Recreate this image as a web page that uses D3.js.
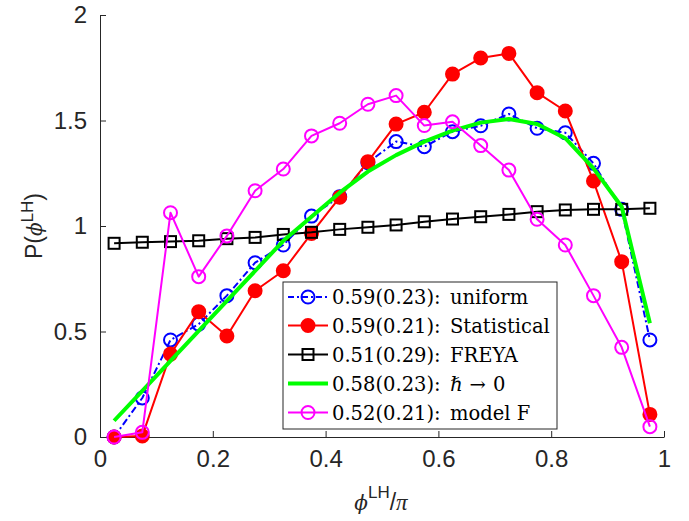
<!DOCTYPE html>
<html><head><meta charset="utf-8">
<script src="https://cdn.jsdelivr.net/npm/d3@7"></script>
<style>body{margin:0;background:#fff}svg{display:block}</style>
</head><body>
<svg id="c" width="689" height="521"></svg>
<script>
const xBins = [0.025,0.075,0.125,0.175,0.225,0.275,0.325,0.375,0.425,0.475,0.525,0.575,0.625,0.675,0.725,0.775,0.825,0.875,0.925,0.975];
const uniformVals = [0,0.185,0.46,0.535,0.67,0.826,0.91,1.047,1.139,1.30,1.40,1.376,1.447,1.475,1.531,1.463,1.442,1.297,1.079,0.46];
const statisticalVals = [0,0.005,0.393,0.594,0.479,0.693,0.788,0.965,1.136,1.305,1.483,1.539,1.720,1.796,1.818,1.632,1.545,1.213,0.831,0.107];
const freyaVals = [0.918,0.923,0.926,0.930,0.940,0.946,0.960,0.970,0.984,0.994,1.005,1.020,1.033,1.044,1.055,1.068,1.076,1.079,1.079,1.084];
const hbarVals = [0.077,0.219,0.361,0.503,0.645,0.787,0.93,1.044,1.158,1.258,1.336,1.400,1.452,1.490,1.507,1.483,1.416,1.273,1.091,0.539];
const modelFVals = [0,0.022,1.063,0.760,0.953,1.167,1.270,1.427,1.487,1.577,1.618,1.476,1.494,1.381,1.265,1.032,0.910,0.670,0.425,0.049];
const xTicks = [0,0.2,0.4,0.6,0.8,1];
const xTickLabels = ["0","0.2","0.4","0.6","0.8","1"];
const yTicks = [0,0.5,1,1.5,2];
const yTickLabels = ["0","0.5","1","1.5","2"];
const seriesPrefix = ["0.59(0.23):","0.59(0.21):","0.51(0.29):","0.58(0.23):","0.52(0.21):"];
const seriesNames = ["uniform","Statistical","FREYA","ℏ → 0","model F"];

const series = [
  {vals: uniformVals, color:"#0000ff", dash:"7,3,2,3", marker:"circle", width:2},
  {vals: statisticalVals, color:"#ff0000", dash:null, marker:"filled", width:2},
  {vals: freyaVals, color:"#000000", dash:null, marker:"square", width:2},
  {vals: hbarVals, color:"#00ff00", dash:null, marker:null, width:4},
  {vals: modelFVals, color:"#ff00ff", dash:null, marker:"circle", width:2}
];

const svg = d3.select("#c");
const x = d3.scaleLinear().domain([0,1]).range([100,664]);
const y = d3.scaleLinear().domain([0,2]).range([437,15]);
const axisColor = "#262626";

// axes
const xAxis = svg.append("g").attr("transform","translate(0,437)")
  .call(d3.axisBottom(x).tickValues(xTicks).tickFormat((d,i)=>xTickLabels[i]).tickSizeInner(-6).tickSizeOuter(0).tickPadding(13));
const yAxis = svg.append("g").attr("transform","translate(100,0)")
  .call(d3.axisLeft(y).tickValues(yTicks).tickFormat((d,i)=>yTickLabels[i]).tickSizeInner(-6).tickSizeOuter(0).tickPadding(13));
[xAxis,yAxis].forEach(a=>{
  a.select(".domain").attr("stroke",axisColor).attr("stroke-width",1);
  a.selectAll(".tick line").attr("stroke",axisColor).attr("stroke-width",1);
  a.selectAll(".tick text").attr("fill",axisColor).style("font-family","'Liberation Sans',Arial,sans-serif").style("font-size","24px");
});

// series
const line = d3.line().x((d,i)=>x(xBins[i])).y(d=>y(d));
series.forEach(s=>{
  const g = svg.append("g");
  g.append("path").attr("d", line(s.vals)).attr("fill","none")
    .attr("stroke", s.color).attr("stroke-width", s.width)
    .attr("stroke-dasharray", s.dash).attr("stroke-linejoin","round");
  if (s.marker === "circle" || s.marker === "filled") {
    g.selectAll("circle").data(s.vals).enter().append("circle")
      .attr("cx",(d,i)=>x(xBins[i])).attr("cy",d=>y(d)).attr("r",6.5)
      .attr("fill", s.marker==="filled"? s.color : "none")
      .attr("stroke", s.color).attr("stroke-width",2);
  } else if (s.marker === "square") {
    g.selectAll("rect").data(s.vals).enter().append("rect")
      .attr("x",(d,i)=>x(xBins[i])-5.5).attr("y",d=>y(d)-5.5)
      .attr("width",11).attr("height",11)
      .attr("fill","none").attr("stroke",s.color).attr("stroke-width",2);
  }
});

// legend
const lg = svg.append("g");
lg.append("rect").attr("x",283).attr("y",282).attr("width",274).attr("height",147)
  .attr("fill","#fff").attr("stroke",axisColor).attr("stroke-width",1);
const rowY = [297,325.5,354.5,383.5,412.5];
const serif = "'DejaVu Serif',serif";
series.forEach((s,i)=>{
  const yy = rowY[i];
  lg.append("line").attr("x1",288).attr("x2",328).attr("y1",yy).attr("y2",yy)
    .attr("stroke",s.color).attr("stroke-width",s.width).attr("stroke-dasharray",s.dash? "6,3,2,3":null);
  if (s.marker === "circle" || s.marker === "filled") {
    lg.append("circle").attr("cx",308).attr("cy",yy).attr("r",6.5)
      .attr("fill", s.marker==="filled"? s.color : "none").attr("stroke",s.color).attr("stroke-width",2);
  } else if (s.marker === "square") {
    lg.append("rect").attr("x",302.5).attr("y",yy-5.5).attr("width",11).attr("height",11)
      .attr("fill","none").attr("stroke",s.color).attr("stroke-width",2);
  }
  lg.append("text").attr("x",332).attr("y",yy+7).text(seriesPrefix[i])
    .style("font-family",serif).style("font-size","19.5px").attr("fill","#000");
  const t = lg.append("text").attr("x",450).attr("y",yy+7)
    .style("font-family",serif).style("font-size","19.5px").attr("fill","#000");
  if (i===3) {
    const parts = seriesNames[i].split(" ");
    t.append("tspan").text(parts[0]).style("font-style","italic");
    t.append("tspan").attr("dx",7).text(parts[1]);
    t.append("tspan").attr("dx",7).text(parts[2]);
  } else t.text(seriesNames[i]);
});

// y label
const yl = svg.append("text").attr("transform","translate(42,226) rotate(-90)")
  .attr("text-anchor","middle").attr("fill",axisColor)
  .style("font-family","'Liberation Sans',Arial,sans-serif").style("font-size","23px");
yl.append("tspan").text("P(");
yl.append("tspan").text("ϕ").style("font-family","'DejaVu Serif',serif").style("font-style","italic").style("font-size","20px");
yl.append("tspan").text("LH").attr("dy",-9).style("font-size","17px");
yl.append("tspan").text(")").attr("dy",9);

// x label
const xl = svg.append("text").attr("x",381).attr("y",510)
  .attr("text-anchor","middle").attr("fill",axisColor)
  .style("font-family","'Liberation Sans',Arial,sans-serif").style("font-size","23px");
xl.append("tspan").text("ϕ").style("font-family","'DejaVu Serif',serif").style("font-style","italic").style("font-size","20px");
xl.append("tspan").text("LH").attr("dy",-12).style("font-size","17px");
xl.append("tspan").text("/").attr("dy",12).style("font-size","23px");
xl.append("tspan").text("π").style("font-family","'Liberation Serif',serif").style("font-style","italic");
</script>
</body></html>
